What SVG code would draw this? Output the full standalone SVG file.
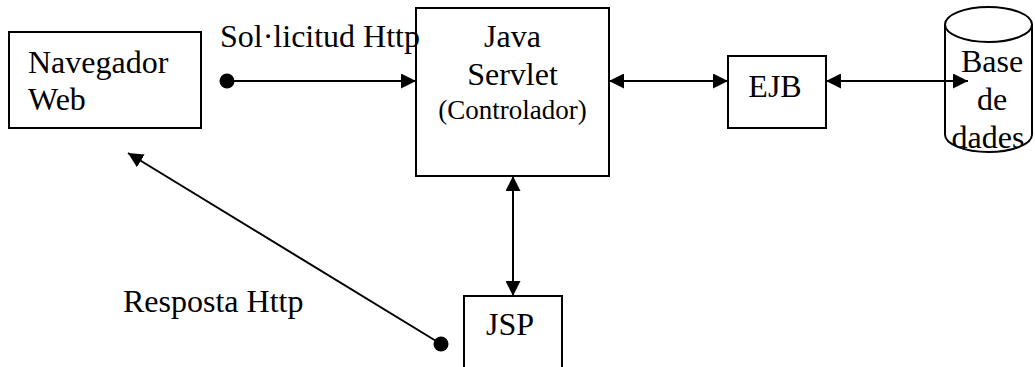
<svg xmlns="http://www.w3.org/2000/svg" width="1035" height="367" viewBox="0 0 1035 367">
  <style>
    .box { fill: #fff; stroke: #000; stroke-width: 2; }
    .lbl { font-family: "Liberation Serif", "DejaVu Serif", serif; font-size: 32px; fill: #000; }
    .small { font-size: 27px; }
    .mid { text-anchor: middle; }
    .wire { fill: none; stroke: #000; stroke-width: 2; }
  </style>
  <defs>
    <marker id="tip" viewBox="0 0 15 15" refX="15" refY="7.5" markerWidth="15" markerHeight="15" markerUnits="userSpaceOnUse" orient="auto-start-reverse">
      <path d="M0,0 L15,7.5 L0,15 Z" fill="#000"/>
    </marker>
    <!-- keeps the database label inside the cylinder body -->
    <clipPath id="dbClip">
      <path d="M945,24.5 L945,134.5 A43.5,17.5 0 0 0 1032,134.5 L1032,24.5 Z"/>
    </clipPath>
  </defs>

  <g id="navegador">
    <rect class="box" x="9" y="32" width="192" height="96"/>
    <text class="lbl" x="28" y="73">Navegador</text>
    <text class="lbl" x="28" y="110">Web</text>
  </g>

  <g id="servlet">
    <rect class="box" x="416" y="8" width="193" height="168"/>
    <text class="lbl mid" x="512.5" y="47">Java</text>
    <text class="lbl mid" x="512.5" y="85">Servlet</text>
    <text class="lbl small mid" x="512.5" y="119">(Controlador)</text>
  </g>

  <g id="ejb">
    <rect class="box" x="728" y="56" width="98" height="72"/>
    <text class="lbl mid" x="775" y="97">EJB</text>
  </g>

  <g id="basededades">
    <path class="box" d="M945,24.5 L945,134.5 A43.5,17.5 0 0 0 1032,134.5 L1032,24.5"/>
    <ellipse class="box" cx="988.5" cy="24.5" rx="43.5" ry="17.5"/>
    <g clip-path="url(#dbClip)">
      <text class="lbl mid" x="992" y="72">Base</text>
      <text class="lbl mid" x="992" y="110">de</text>
      <text class="lbl mid" x="988" y="148">dades</text>
    </g>
  </g>

  <g id="jsp">
    <rect class="box" x="464" y="296" width="98" height="100"/>
    <text class="lbl mid" x="510" y="335">JSP</text>
  </g>

  <g id="connectors">
    <!-- request: browser to servlet -->
    <line class="wire" x1="227" y1="81" x2="416" y2="81" marker-end="url(#tip)"/>
    <circle cx="227" cy="81" r="7.5" fill="#000"/>
    <text class="lbl" x="220" y="47">Sol·licitud Http</text>
    <!-- servlet <-> EJB -->
    <line class="wire" x1="609" y1="81" x2="728" y2="81" marker-start="url(#tip)" marker-end="url(#tip)"/>
    <!-- EJB <-> database -->
    <line class="wire" x1="826" y1="81" x2="968" y2="81" marker-start="url(#tip)" marker-end="url(#tip)"/>
    <!-- servlet <-> JSP -->
    <line class="wire" x1="513" y1="176" x2="513" y2="296" marker-start="url(#tip)" marker-end="url(#tip)"/>
    <!-- response: JSP back to browser -->
    <line class="wire" x1="441" y1="344" x2="128" y2="153" marker-end="url(#tip)"/>
    <circle cx="441" cy="344" r="7.5" fill="#000"/>
    <text class="lbl" x="123" y="312">Resposta Http</text>
  </g>
</svg>
